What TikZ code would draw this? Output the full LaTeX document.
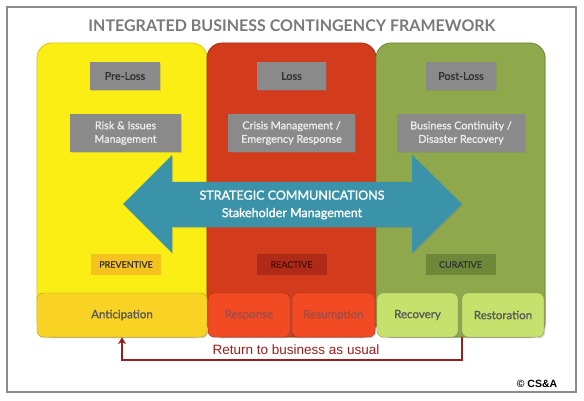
\documentclass[tikz,border=0pt]{standalone}
\usepackage{fontspec}
\setmainfont{Lato}
\newfontfamily\medfont{Lato}[FakeBold=1.3]
\newfontfamily\arialfont{Liberation Sans}
\usetikzlibrary{shadows,arrows.meta}
\definecolor{frameg}{HTML}{8C8C8C}
\definecolor{titleg}{HTML}{7A7A7A}
\definecolor{yelcol}{HTML}{FAEE14}
\definecolor{yelbd}{HTML}{D8C80E}
\definecolor{redcol}{HTML}{D23C1C}
\definecolor{redbd}{HTML}{A82E14}
\definecolor{grncol}{HTML}{8EA84B}
\definecolor{grnbd}{HTML}{6E8634}
\definecolor{boxg}{HTML}{8A8A8A}
\definecolor{teal}{HTML}{3A93A9}
\definecolor{prevc}{HTML}{F6C21E}
\definecolor{reacc}{HTML}{B02A18}
\definecolor{curac}{HTML}{6C8838}
\definecolor{anticc}{HTML}{F9D323}
\definecolor{respc}{HTML}{F24A22}
\definecolor{resptxt}{HTML}{A24A46}
\definecolor{reactxt}{HTML}{4A1208}
\definecolor{recc}{HTML}{C6E26C}
\definecolor{retred}{HTML}{9A1E1E}
\tikzset{
  x=1pt, y=-1pt,
  shad/.style={drop shadow={opacity=0.3, shadow xshift=1.2pt, shadow yshift=-1.2pt}},
  column/.style={rounded corners=15pt, line width=0.8pt, shad},
  graybox/.style={fill=boxg, inner sep=1pt, align=center, font=\medfont\fontsize{10.8}{13.5}\selectfont, shad},
  phasebox/.style={inner sep=1pt, minimum width=70pt, minimum height=21pt, font=\medfont\fontsize{9}{10}\selectfont},
  bottombox/.style={rounded corners=6pt, minimum height=44pt, inner sep=1pt, font=\medfont\fontsize{11.5}{13}\selectfont, shad},
}
\begin{document}
\begin{tikzpicture}
\useasboundingbox (0,0) rectangle (584,401);
\fill[white] (0,0) rectangle (584,401);
% frame
\draw[frameg, line width=2.5pt, drop shadow={opacity=0.25, shadow xshift=1pt, shadow yshift=-1pt}, fill=white] (7,7) rectangle (576,392);
\node[font=\bfseries\fontsize{16}{18}\selectfont, text=titleg] (title) at (292,26) {INTEGRATED BUSINESS CONTINGENCY FRAMEWORK};
% columns
\draw[column, fill=yelcol, draw=yelbd] (37,43) rectangle (207,337);
\draw[column, fill=redcol, draw=redbd] (207,43) rectangle (376,337);
\draw[column, fill=grncol, draw=grnbd] (376,43) rectangle (545,337);
% gray boxes
\node[graybox, minimum width=70pt, minimum height=28pt, text=black!80] (preloss) at (125,76) {Pre-Loss};
\node[graybox, minimum width=111pt, minimum height=38pt, text=white!92!black] (risk) at (125.5,133) {Risk \& Issues\\Management};
\node[graybox, minimum width=69pt, minimum height=28pt, text=black!80] (loss) at (291.5,76) {Loss};
\node[graybox, minimum width=127pt, minimum height=38pt, text=white!92!black] (crisis) at (291.5,133) {Crisis Management /\\Emergency Response};
\node[graybox, minimum width=70pt, minimum height=28pt, text=black!80] (postloss) at (461,76) {Post-Loss};
\node[graybox, minimum width=128pt, minimum height=38pt, text=white!92!black] (bc) at (461,133) {Business Continuity /\\Disaster Recovery};
% strategic communications arrow
\fill[teal, drop shadow={opacity=0.3, shadow xshift=1.2pt, shadow yshift=-1.2pt}]
  (123,204) -- (172,155) -- (172,182) -- (412,182) -- (412,155) -- (462,204)
  -- (412,253) -- (412,227) -- (172,227) -- (172,253) -- cycle;
\node[text=white, align=center, font=\medfont\fontsize{12.5}{17.5}\selectfont] (comm) at (292,205) {STRATEGIC COMMUNICATIONS\\Stakeholder Management};
% phase labels
\node[phasebox, fill=prevc, text=black!80] (prev) at (126,264.5) {PREVENTIVE};
\node[phasebox, fill=reacc, text=reactxt] (reac) at (291.5,264.5) {REACTIVE};
\node[phasebox, fill=curac, text=black!80] (cura) at (460.5,264.5) {CURATIVE};
% bottom boxes
\node[bottombox, fill=anticc, draw=yelbd!80!black, minimum width=170pt, text=black!65] (antic) at (122,315) {Anticipation};
\node[bottombox, fill=respc, draw=redbd, minimum width=82pt, text=resptxt] (resp) at (249,315) {Response};
\node[bottombox, fill=respc, draw=redbd, minimum width=83pt, text=resptxt] (resum) at (333.5,315) {Resumption};
\node[bottombox, fill=recc, draw=grnbd!80, minimum width=81pt, text=black!65] (recov) at (417.5,315) {Recovery};
\node[bottombox, fill=recc, draw=grnbd!80, minimum width=82pt, text=black!65] (resto) at (503,315) {Restoration};
% return arrow
\draw[retred, line width=1.8pt, -{Stealth[length=7pt,width=8pt]}] (resto.south west) -- ++(0,23) -| (antic.south);
\node[text=retred, font=\arialfont\fontsize{13.5}{15}\selectfont] (ret) at (296,350) {Return to business as usual};
\node[font=\arialfont\bfseries\fontsize{10.5}{12}\selectfont] (copy) at (537,384) {\textcopyright{} CS\&A};
\end{tikzpicture}
\end{document}
